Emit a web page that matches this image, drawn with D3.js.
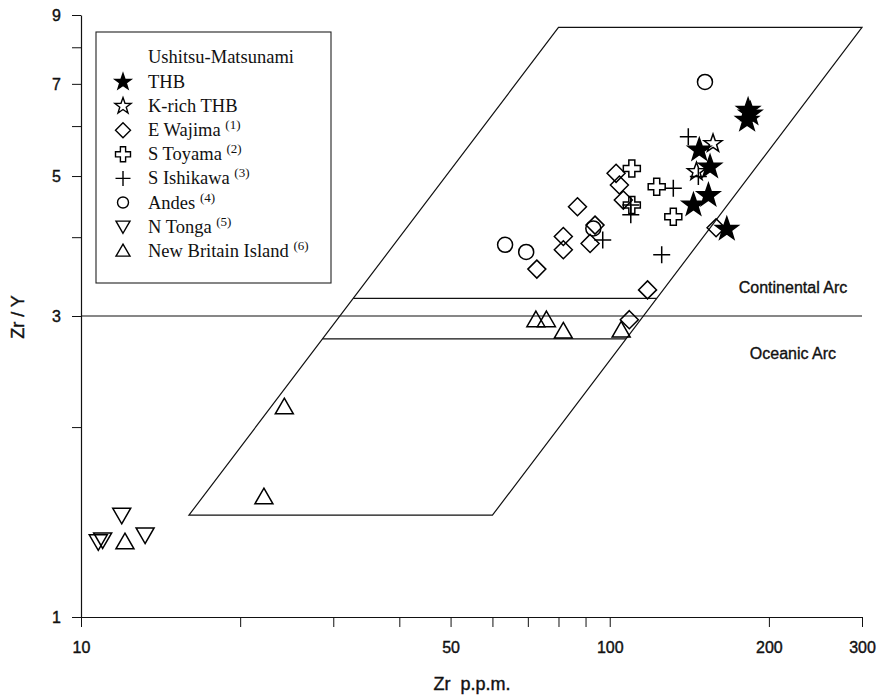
<!DOCTYPE html>
<html><head><meta charset="utf-8">
<script src="https://cdn.jsdelivr.net/npm/d3@7"></script>
<style>
body{margin:0;background:#fff;}
svg{display:block;}
</style></head>
<body>
<svg id="chart" width="880" height="695"></svg>
<script>
// ---- data ----
const thbZr = [182.7, 181.9, 184.5, 147.7, 154.8, 153.7, 144.0, 166.5];
const thbZrY = [6.36, 6.13, 6.27, 5.50, 5.17, 4.66, 4.50, 4.12];
const kthbZr = [156.8, 145.9];
const kthbZrY = [5.63, 5.08];
const wajimaZr = [102.8, 104.3, 106.1, 86.9, 93.8, 91.8, 81.7, 81.7, 72.8, 117.9, 108.9, 158.9];
const wajimaZrY = [5.05, 4.84, 4.58, 4.47, 4.18, 3.91, 4.01, 3.82, 3.56, 3.30, 2.96, 4.14];
const toyamaZr = [110.1, 122.7, 110.1, 131.9];
const toyamaZrY = [5.14, 4.81, 4.50, 4.31];
const ishikawaZr = [140.8, 131.9, 147.1, 109.6, 109.6, 97.0, 125.4];
const ishikawaZrY = [5.77, 4.78, 4.99, 4.50, 4.34, 3.96, 3.75];
const andesZr = [151.4, 93.1, 63.4, 69.5];
const andesZrY = [7.05, 4.13, 3.89, 3.79];
const tongaZr = [11.94, 10.78, 10.99, 13.22];
const tongaZrY = [1.45, 1.316, 1.325, 1.349];
const nbiZr = [12.11, 22.18, 24.24, 72.5, 75.9, 81.7, 105.1];
const nbiZrY = [1.316, 1.551, 2.154, 2.96, 2.96, 2.84, 2.85];

const fieldZr = [16, 60, 300, 80];
const fieldZrY = [1.45, 1.45, 8.6, 8.6];
const arcDivide = 3;
const bandLevels = [3.2, 2.76];

const xTicks = [10,20,30,40,50,60,70,80,90,100,200,300];
const xTickLabels = [10,50,100,200,300];
const yTicks = [1,2,3,4,5,6,7,8,9];
const yTickLabels = [1,3,5,7,9];

const legendTitle = "Ushitsu-Matsunami";
const legendNames = ["THB","K-rich THB","E Wajima","S Toyama","S Ishikawa","Andes","N Tonga","New Britain Island"];
const legendRefs = ["","","(1)","(2)","(3)","(4)","(5)","(6)"];

// ---- chart ----
const svg = d3.select("#chart");
const x = d3.scaleLog().domain([10,300]).range([81,862]);
const y = d3.scaleLog().domain([1,9]).range([617,15]);
const sans = "'Liberation Sans', Arial, sans-serif";
const serif = "'Liberation Serif', 'Times New Roman', serif";

// axes
const gx = svg.append("g").attr("transform","translate(0,617)")
  .call(d3.axisBottom(x).tickValues(xTicks).tickSize(10).tickSizeOuter(0)
    .tickFormat(d => xTickLabels.includes(d) ? d : ""));
const gy = svg.append("g").attr("transform","translate(81,0)")
  .call(d3.axisLeft(y).tickValues(yTicks).tickSize(9).tickSizeOuter(0)
    .tickFormat(d => yTickLabels.includes(d) ? d : ""));
[gx,gy].forEach(g=>{
  g.select(".domain").attr("stroke","#111").attr("stroke-width",1.2);
  g.selectAll(".tick line").attr("stroke","#111").attr("stroke-width",1);
  g.selectAll("text").attr("font-family",sans).attr("font-size",16).attr("fill","#111")
    .attr("stroke","#111").attr("stroke-width",0.4);
});
gx.selectAll("text").attr("dy","1.45em");
gy.selectAll("text").attr("x",-20).attr("dy","0.35em");

svg.append("text").attr("transform","translate(24,317) rotate(-90)")
  .attr("text-anchor","middle").attr("font-family",sans).attr("font-size",18).attr("fill","#111")
  .attr("stroke","#111").attr("stroke-width",0.4)
  .text("Zr / Y");
svg.append("text").attr("x",472).attr("y",690).attr("text-anchor","middle")
  .attr("font-family",sans).attr("font-size",18).attr("fill","#111")
  .attr("stroke","#111").attr("stroke-width",0.4)
  .style("white-space","pre").text("Zr  p.p.m.");

// field parallelogram
const fieldPts = fieldZr.map((v,i)=>[x(v), y(fieldZrY[i])]);
svg.append("path").attr("d", d3.line()(fieldPts) + "Z")
  .attr("fill","none").attr("stroke","#111").attr("stroke-width",1.2);

// divide line at Zr/Y = 3
svg.append("line").attr("x1",x(10)).attr("x2",x(300)).attr("y1",y(arcDivide)).attr("y2",y(arcDivide))
  .attr("stroke","#111").attr("stroke-width",1.2);

// band lines inside field
const lg = Math.log10;
const slope = (lg(fieldZr[3])-lg(fieldZr[0]))/(lg(fieldZrY[3])-lg(fieldZrY[0]));
bandLevels.forEach(v=>{
  const xl = Math.pow(10, lg(fieldZr[0]) + (lg(v)-lg(fieldZrY[0]))*slope);
  const xr = Math.pow(10, lg(fieldZr[1]) + (lg(v)-lg(fieldZrY[1]))*slope);
  svg.append("line").attr("x1",x(xl)).attr("x2",x(xr)).attr("y1",y(v)).attr("y2",y(v))
    .attr("stroke","#111").attr("stroke-width",1.2);
});

svg.append("text").attr("x",793).attr("y",293).attr("text-anchor","middle")
  .attr("font-family",sans).attr("font-size",16).attr("fill","#111")
  .attr("stroke","#111").attr("stroke-width",0.35).text("Continental Arc");
svg.append("text").attr("x",793).attr("y",359).attr("text-anchor","middle")
  .attr("font-family",sans).attr("font-size",16).attr("fill","#111")
  .attr("stroke","#111").attr("stroke-width",0.35).text("Oceanic Arc");

// symbol definitions
function starPath(R){ const r=R*0.40; let p=[]; for(let i=0;i<10;i++){const a=-Math.PI/2+i*Math.PI/5; const rr=i%2?r:R; p.push([rr*Math.cos(a), rr*Math.sin(a)]);} return d3.line()(p)+"Z"; }
function diamondPath(h){ return `M0,${-h}L${h},0L0,${h}L${-h},0Z`; }
function crossPath(a,b){ return `M${-b},${-a}H${b}V${-b}H${a}V${b}H${b}V${a}H${-b}V${b}H${-a}V${-b}H${-b}Z`; }
function plusPath(h){ return `M${-h},0H${h}M0,${-h}V${h}`; }
function circlePath(r){ return d3.symbol(d3.symbolCircle, Math.PI*r*r)(); }
function triPath(s, down){ const h=s*Math.sqrt(3)/2; const t=down?-1:1; return `M0,${-t*h*0.55}L${s/2},${t*h*0.45}L${-s/2},${t*h*0.45}Z`; }

const series = [
  {zr:thbZr, zy:thbZrY, path:starPath(12), lpath:starPath(8.5), fill:"#000"},
  {zr:kthbZr, zy:kthbZrY, path:starPath(9.5), lpath:starPath(8.5), fill:"none"},
  {zr:wajimaZr, zy:wajimaZrY, path:diamondPath(9), lpath:diamondPath(7.5), fill:"none"},
  {zr:toyamaZr, zy:toyamaZrY, path:crossPath(8.5,3), lpath:crossPath(7.5,2.6), fill:"none"},
  {zr:ishikawaZr, zy:ishikawaZrY, path:plusPath(8.5), lpath:plusPath(7.5), fill:"none"},
  {zr:andesZr, zy:andesZrY, path:circlePath(7.5), lpath:circlePath(5.5), fill:"none"},
  {zr:tongaZr, zy:tongaZrY, path:triPath(18,true), lpath:triPath(14,true), fill:"none"},
  {zr:nbiZr, zy:nbiZrY, path:triPath(18,false), lpath:triPath(14,false), fill:"none"}
];

const drawOrder = [7,6,5,2,3,4,1,0];
drawOrder.forEach(si=>{
  const s = series[si];
  svg.append("g").selectAll("path").data(s.zr.map((v,i)=>[v,s.zy[i]])).join("path")
    .attr("transform", d=>`translate(${x(d[0])},${y(d[1])})`)
    .attr("d", s.path).attr("fill", s.fill).attr("stroke","#000").attr("stroke-width",1.5)
    .attr("stroke-linejoin","miter");
});

// legend
const lgG = svg.append("g");
lgG.append("rect").attr("x",96).attr("y",32).attr("width",235).attr("height",251)
  .attr("fill","#fff").attr("stroke","#222").attr("stroke-width",1.1);
lgG.append("text").attr("x",148).attr("y",63).attr("font-family",serif).attr("font-size",18.5)
  .attr("fill","#111").text(legendTitle);
legendNames.forEach((name,i)=>{
  const cy = 82 + i*24.1;
  const s = series[i];
  lgG.append("path").attr("transform",`translate(123,${cy})`).attr("d",s.lpath)
    .attr("fill",s.fill).attr("stroke","#000").attr("stroke-width",1.4);
  const t = lgG.append("text").attr("x",148).attr("y",cy+6).attr("font-family",serif)
    .attr("font-size",18.5).attr("fill","#111");
  t.append("tspan").text(name);
  if (legendRefs[i]) {
    t.append("tspan").text(" ");
    t.append("tspan").attr("font-size",13).attr("dy",-7).text(legendRefs[i]);
  }
});
</script>
</body></html>
